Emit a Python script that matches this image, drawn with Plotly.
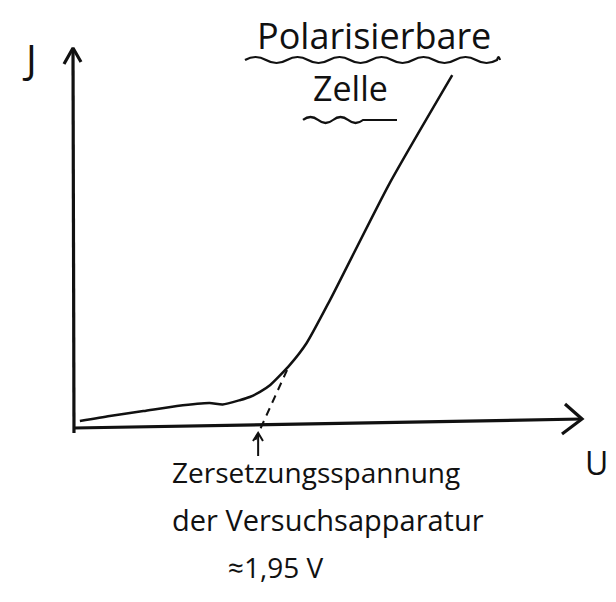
import plotly.graph_objects as go

# ---- data: U in volts, I in arbitrary units ----
curve_U = [0.02, 0.34, 0.70, 1.06, 1.41, 1.55, 1.74, 1.84, 1.95, 2.06, 2.27, 2.45, 2.70, 3.34, 4.01]
curve_I = [0.20, 0.37, 0.53, 0.70, 0.80, 0.75, 0.90, 1.00, 1.17, 1.40, 2.07, 2.80, 4.23, 8.13, 11.73]
dash_U = [2.24, 1.90]
dash_I = [1.90, -0.43]
decomp_U = 1.95

title_lines = ["Polarisierbare", "Zelle"]
y_label = "J"
x_label = "U"
note_lines = ["Zersetzungsspannung", "der Versuchsapparatur", "≈1,95 V"]

# page body has an 8px margin on every side: keep the figure inside the window
OFF = 8
W, H = 616 - 2 * OFF, 602 - 2 * OFF
KX, KY = 93.33, 30.0          # screen px per volt / per current unit
X0, Y0 = 78, 427              # screen px of the origin
X_RANGE = [(OFF - X0) / KX, (OFF + W - X0) / KX]
Y_RANGE = [(Y0 - (OFF + H)) / KY, (Y0 - OFF) / KY]
FONT = "Open Sans"
INK = "#111111"

def U(px):
    return (px - X0) / KX

def I(py):
    return (Y0 - py) / KY

fig = go.Figure()

def line(xs, ys, width=3, dash=None, smooth=True):
    fig.add_trace(go.Scatter(x=xs, y=ys, mode="lines", hoverinfo="skip",
                             line=dict(color=INK, width=width, dash=dash,
                                       shape="spline" if smooth else "linear", smoothing=0.6)))

# axes with open arrowheads
line([U(74), U(73)], [I(433), I(48)], 3.2, smooth=False)
line([U(64), U(73), U(81)], [I(64), I(48), I(62)], 3.2, smooth=False)
line([U(74), U(582)], [I(428), I(419)], 3.2, smooth=False)
line([U(565), U(582), U(562)], [I(404), I(419), I(434)], 3.2, smooth=False)

# measured curve and extrapolation
line(curve_U, curve_I, 2.5)
line(dash_U, dash_I, 2, dash="8px,6px", smooth=False)

# small arrow pointing at decomposition voltage
line([decomp_U - 0.02, decomp_U - 0.02], [I(456), I(433)], 2, smooth=False)
line([decomp_U - 0.075, decomp_U - 0.02, decomp_U + 0.032], [I(441), I(433), I(441)], 2, smooth=False)

def px2paper(px, py):
    return (px - OFF) / W, 1 - (py - OFF) / H

def wave_path(x0, x1, yc, amp, period, flat_from=None):
    # decorative hand-drawn wavy underline (screen px -> paper)
    segs = []
    x = x0
    up = True
    while x < x1 - 0.5:
        xe = min(x + period / 2, x1)
        if flat_from is not None and x >= flat_from:
            segs.append(("L", xe, yc))
        else:
            segs.append(("Q", (x + xe) / 2, yc - amp if up else yc + amp, xe, yc))
        up = not up
        x = xe
    sx, sy = px2paper(x0, yc)
    p = f"M {sx:.4f},{sy:.4f}"
    for s in segs:
        if s[0] == "L":
            a, b = px2paper(s[1], s[2])
            p += f" L {a:.4f},{b:.4f}"
        else:
            a, b = px2paper(s[1], s[2])
            c, d = px2paper(s[3], s[4])
            p += f" Q {a:.4f},{b:.4f} {c:.4f},{d:.4f}"
    return p

fig.add_shape(type="path", xref="paper", yref="paper",
              path=wave_path(245, 500, 60, 6, 42), line=dict(color=INK, width=2.2))
fig.add_shape(type="path", xref="paper", yref="paper",
              path=wave_path(303, 397, 120, 6, 30, flat_from=350), line=dict(color=INK, width=2.2))

def text(t, px, py, size, xanchor="center"):
    fig.add_annotation(x=U(px), y=I(py), xref="x", yref="y", text=t, showarrow=False,
                       xanchor=xanchor, yanchor="middle",
                       font=dict(family=FONT, size=size, color=INK))

text(y_label, 29, 58, 40)
text(title_lines[0], 374, 35, 36)
text(title_lines[1], 350, 88, 34)
text(x_label, 596, 462, 32)
text(note_lines[0], 170, 472, 28, "left")
text(note_lines[1], 170, 519, 29, "left")
text(note_lines[2], 226, 567, 28, "left")

fig.update_layout(
    width=W, height=H, margin=dict(l=0, r=0, t=0, b=0),
    paper_bgcolor="white", plot_bgcolor="white", showlegend=False,
    xaxis=dict(range=X_RANGE, visible=False, fixedrange=True),
    yaxis=dict(range=Y_RANGE, visible=False, fixedrange=True),
)
fig.write_html("out.html")
